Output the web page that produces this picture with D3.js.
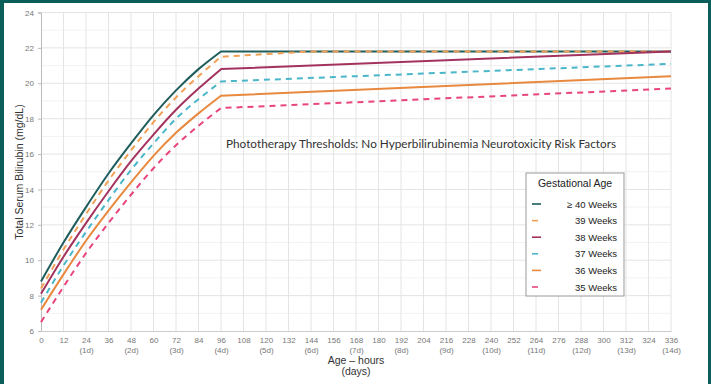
<!DOCTYPE html>
<html><head><meta charset="utf-8">
<script src="https://cdn.jsdelivr.net/npm/d3@7"></script>
<style>
html,body{margin:0;padding:0;background:#fff;}
svg{display:block;}
</style></head>
<body>
<svg id="c" width="711" height="384"></svg>
<script>
// ---- data ----
const hours = [0,12,24,36,48,60,72,84,96,108,120,132,144,156,168,180,192,204,216,228,240,252,264,276,288,300,312,324,336];
const dayLabels = {24:"(1d)",48:"(2d)",72:"(3d)",96:"(4d)",120:"(5d)",144:"(6d)",168:"(7d)",192:"(8d)",216:"(9d)",240:"(10d)",264:"(11d)",288:"(12d)",312:"(13d)",336:"(14d)"};
const yTicks = [6,8,10,12,14,16,18,20,22,24];
const seriesNames = ["\u2265 40 Weeks","39 Weeks","38 Weeks","37 Weeks","36 Weeks","35 Weeks"];
const seriesColors = ["#1f5c5c","#f0a055","#a3335e","#49b6c9","#e8893f","#e8457f"];
const seriesDashed = [false,true,false,true,false,true];
// [hour, value] points
const ga40 = [[0,8.8],[12,11.0],[24,13.0],[36,14.9],[48,16.6],[60,18.2],[72,19.6],[84,20.8],[96,21.8],[336,21.8]];
const ga39 = [[0,8.4],[12,10.6],[24,12.6],[36,14.5],[48,16.2],[60,17.8],[72,19.2],[84,20.4],[96,21.5],[120,21.65],[144,21.8],[336,21.8]];
const ga38 = [[0,8.1],[12,10.2],[24,12.1],[36,13.9],[48,15.6],[60,17.1],[72,18.5],[84,19.7],[96,20.8],[336,21.8]];
const ga37 = [[0,7.6],[12,9.7],[24,11.6],[36,13.4],[48,15.1],[60,16.6],[72,18.0],[84,19.1],[96,20.1],[336,21.1]];
const ga36 = [[0,7.2],[12,9.2],[24,11.1],[36,12.8],[48,14.4],[60,15.9],[72,17.2],[84,18.3],[96,19.3],[336,20.4]];
const ga35 = [[0,6.5],[12,8.5],[24,10.4],[36,12.1],[48,13.7],[60,15.2],[72,16.5],[84,17.6],[96,18.6],[336,19.7]];
const seriesData = [ga40,ga39,ga38,ga37,ga36,ga35];
const annotation = "Phototherapy Thresholds:  No Hyperbilirubinemia Neurotoxicity Risk Factors";

// ---- drawing ----
const svg = d3.select("#c");
const teal = "#0b5e5a";
const font = "Liberation Sans, Arial, sans-serif";
svg.append("rect").attr("x",0).attr("y",0).attr("width",711).attr("height",384).attr("fill","#fff");
svg.append("rect").attr("x",0).attr("y",0).attr("width",711).attr("height",3).attr("fill",teal);
svg.append("rect").attr("x",0).attr("y",0).attr("width",4).attr("height",384).attr("fill",teal);
svg.append("rect").attr("x",708).attr("y",0).attr("width",3).attr("height",384).attr("fill",teal);

const x = d3.scaleLinear().domain([0,336]).range([41,671]);
const y = d3.scaleLinear().domain([6,24]).range([331,12.5]);

const g = svg.append("g");
g.selectAll(".hmin").data(d3.range(7,24,2)).join("line")
  .attr("x1",x(0)).attr("x2",x(336)).attr("y1",d=>y(d)).attr("y2",d=>y(d))
  .attr("stroke","#f2f2f2").attr("stroke-width",1);
g.selectAll(".vg").data(hours.slice(1)).join("line")
  .attr("x1",d=>x(d)).attr("x2",d=>x(d)).attr("y1",y(24)).attr("y2",y(6))
  .attr("stroke","#e4e4e4").attr("stroke-width",1);
g.selectAll(".hg").data(yTicks.slice(1)).join("line")
  .attr("x1",x(0)).attr("x2",x(336)).attr("y1",d=>y(d)).attr("y2",d=>y(d))
  .attr("stroke","#e4e4e4").attr("stroke-width",1);

// axes
const yAxis = d3.axisLeft(y).tickValues(yTicks).tickSize(3).tickFormat(d3.format("d"));
const ya = svg.append("g").attr("transform",`translate(${x(0)},0)`).call(yAxis);
ya.select(".domain").attr("stroke","#bbb");
ya.selectAll(".tick line").attr("stroke","#bbb");
ya.selectAll(".tick text").attr("fill","#777").attr("font-family",font).attr("font-size",8).attr("dx",-1);

const xAxis = d3.axisBottom(x).tickValues(hours).tickSize(0).tickFormat(d3.format("d"));
const xa = svg.append("g").attr("transform",`translate(0,${y(6)})`).call(xAxis);
xa.select(".domain").attr("stroke","#ccc");
xa.selectAll(".tick text").attr("fill","#777").attr("font-family",font).attr("font-size",8).attr("dy","1.1em");
xa.selectAll(".tick").filter(d=>dayLabels[d]).append("text")
  .attr("y",21.5).attr("fill","#777")
  .attr("font-family",font).attr("font-size",8)
  .attr("text-anchor","middle").text(d=>dayLabels[d]);

// axis titles
svg.append("text").attr("x",356).attr("y",364).attr("text-anchor","middle")
  .attr("font-family",font).attr("font-size",10.5).attr("fill","#333")
  .text("Age \u2013 hours");
svg.append("text").attr("x",356).attr("y",375).attr("text-anchor","middle")
  .attr("font-family",font).attr("font-size",10.5).attr("fill","#333")
  .text("(days)");
svg.append("text").attr("transform","translate(23,172) rotate(-90)").attr("text-anchor","middle")
  .attr("font-family",font).attr("font-size",10.5).attr("fill","#333")
  .text("Total Serum Bilirubin (mg/dL)");

// lines: smooth rise up to 96 h, straight after
const rise = d3.line().x(d=>x(d[0])).y(d=>y(d[1])).curve(d3.curveMonotoneX);
const flat = d3.line().x(d=>x(d[0])).y(d=>y(d[1]));
seriesData.forEach((s,i)=>{
  const a = s.filter(d=>d[0]<=96), b = s.filter(d=>d[0]>=96);
  const p = rise(a) + flat(b).replace(/^M/,"L");
  svg.append("path").attr("d",p).attr("fill","none")
    .attr("stroke",seriesColors[i]).attr("stroke-width",2)
    .attr("stroke-linejoin","round")
    .attr("stroke-dasharray",seriesDashed[i]?"6,5":null);
});

// annotation
svg.append("text").attr("x",226).attr("y",148)
  .attr("font-family","Lato, Open Sans, sans-serif").attr("font-size",10.5).attr("fill","#333")
  .attr("textLength",390).attr("lengthAdjust","spacingAndGlyphs")
  .text(annotation);

// legend
const lg = svg.append("g").attr("transform","translate(526,173)");
lg.append("rect").attr("x",0).attr("y",0).attr("width",98).attr("height",123)
  .attr("fill","#fff").attr("stroke","#999").attr("stroke-width",1);
lg.append("text").attr("x",49).attr("y",14).attr("text-anchor","middle")
  .attr("font-family",font).attr("font-size",10.5).attr("fill","#222")
  .text("Gestational Age");
seriesNames.forEach((n,i)=>{
  const yy = 31 + i*16.6;
  lg.append("line").attr("x1",6).attr("x2",seriesDashed[i]?12:15).attr("y1",yy).attr("y2",yy)
    .attr("stroke",seriesColors[i]).attr("stroke-width",1.6);
  lg.append("text").attr("x",91).attr("y",yy+3.5).attr("text-anchor","end")
    .attr("font-family",font).attr("font-size",9.5).attr("fill","#222")
    .text(n);
});
</script>
</body></html>
